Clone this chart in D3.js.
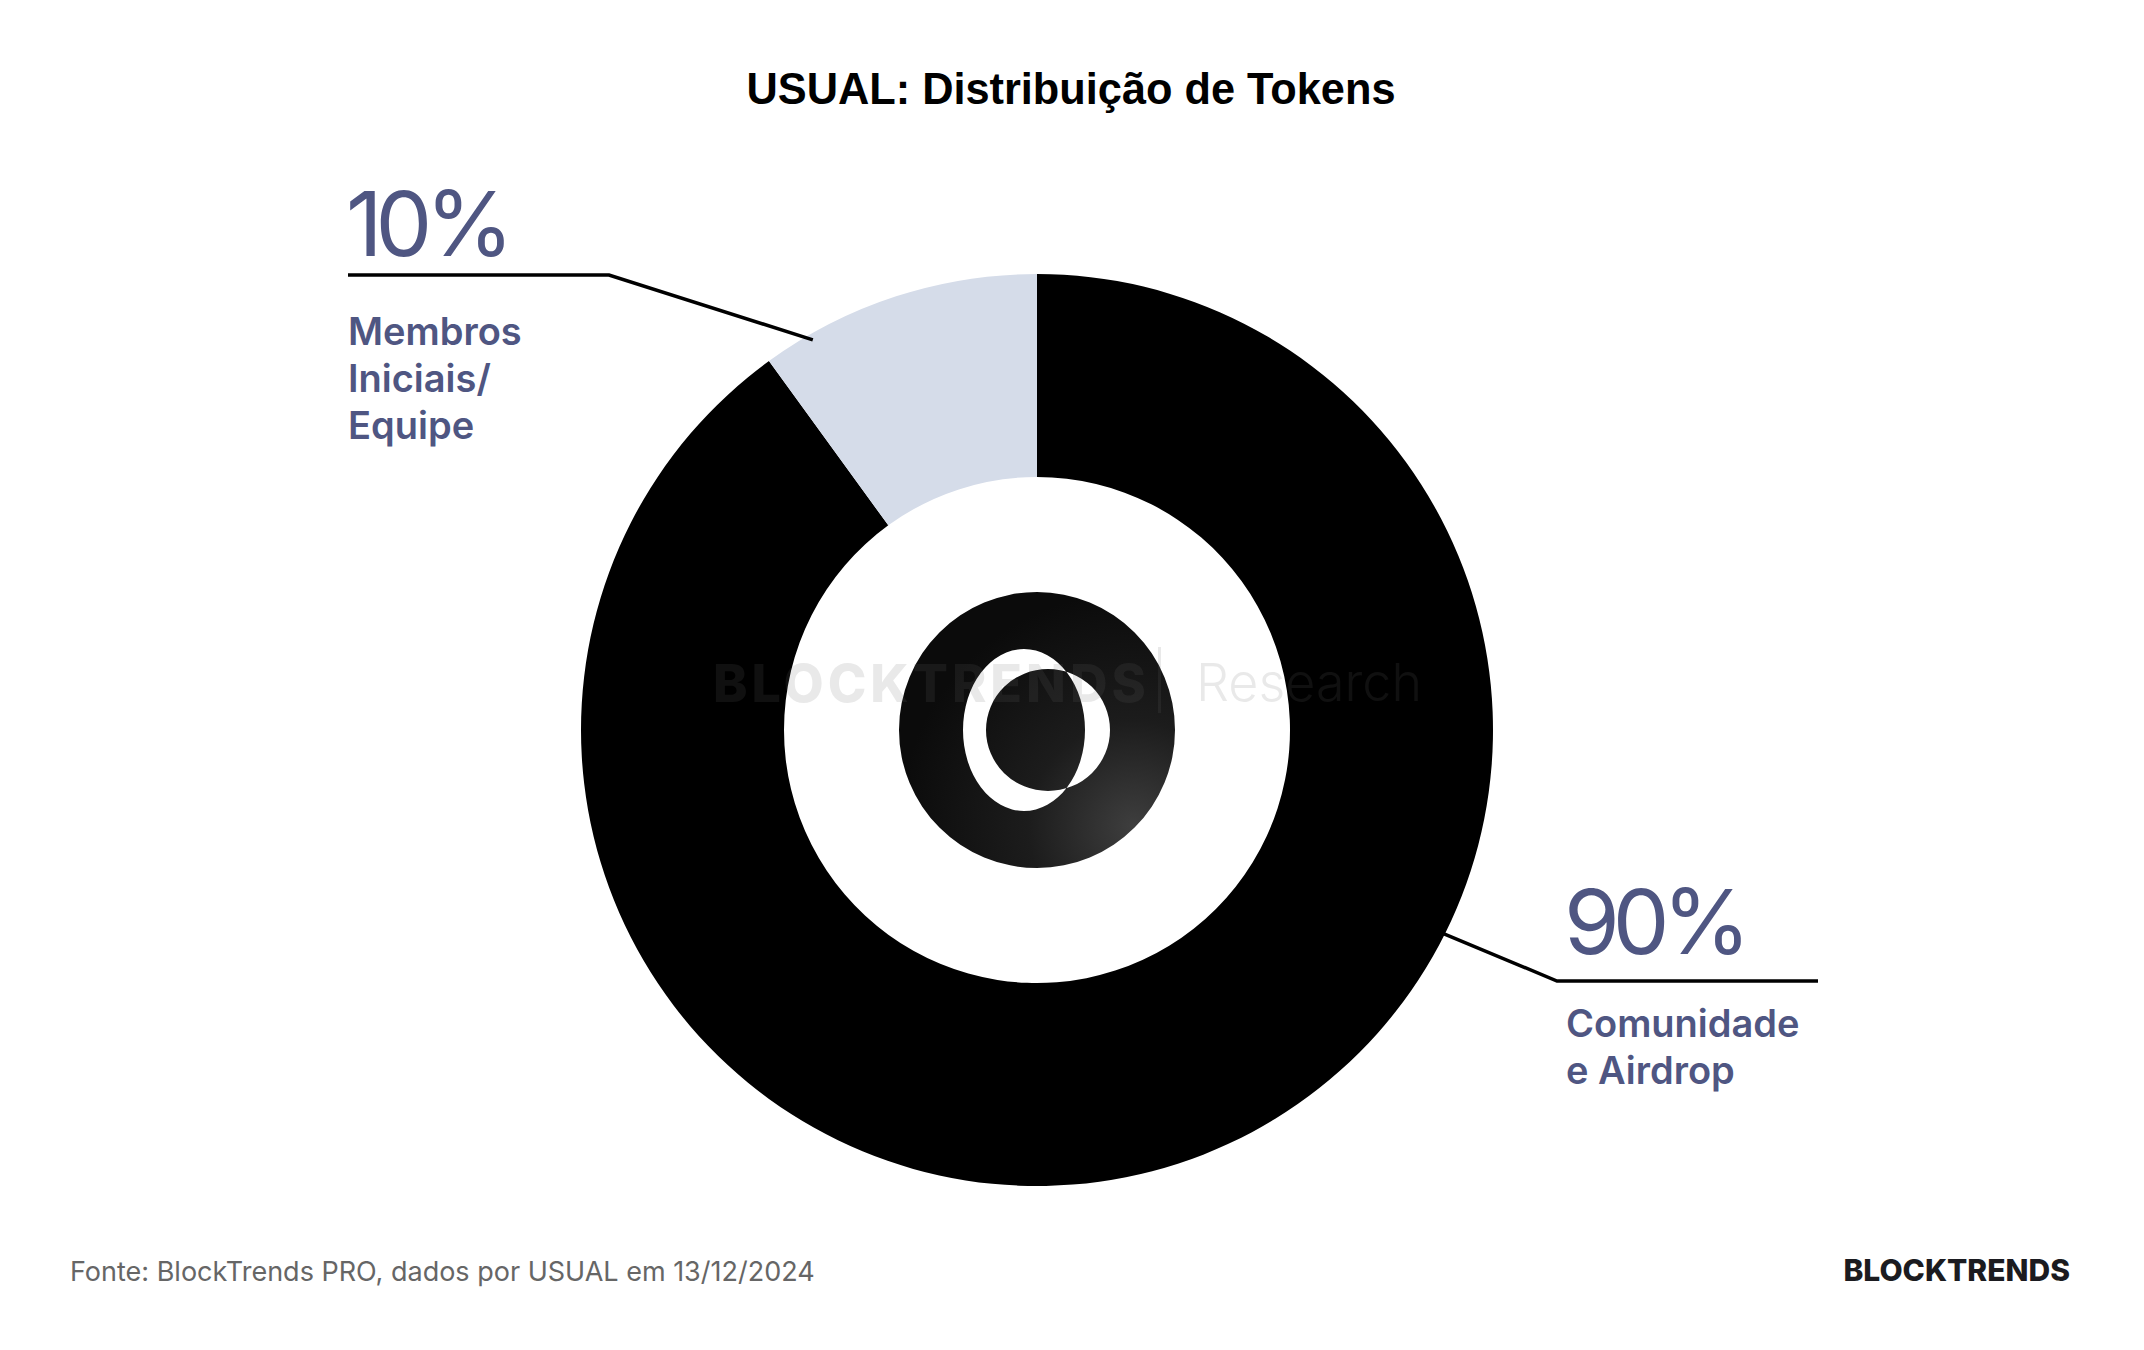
<!DOCTYPE html>
<html>
<head>
  <meta charset="utf-8">
  <title>USUAL: Distribuição de Tokens</title>
  <script src="https://cdnjs.cloudflare.com/ajax/libs/d3/7.8.5/d3.min.js"></script>
  <style>
    body { margin: 0; background: #fff; }
    svg { display: block; }
    .pct { font-family: Inter, "Noto Sans", sans-serif; font-weight: 400; fill: #4f5682; letter-spacing: -7px; }
    .cat { font-family: Inter, "Noto Sans", sans-serif; font-weight: 600; fill: #4f5682; }
    .leader { fill: none; stroke: #000; stroke-width: 3.5; }
  </style>
</head>
<body>
<svg id="chart" width="2144" height="1350"></svg>
<script>
  // data
  var categories = ["Comunidade e Airdrop", "Membros Iniciais/ Equipe"];
  var values = [90, 10];
  var pctLabels = ["90%", "10%"];
  var catLines = [["Comunidade", "e Airdrop"], ["Membros", "Iniciais/", "Equipe"]];
  var colors = ["#000000", "#d5dce9"];

  var W = 2144, H = 1350;
  var cx = 1037, cy = 730, outerR = 456, innerR = 253;

  // where each leader line leaves the ring (fraction of slice span) and its elbow/end
  var leaderLayout = [
    { frac: 0.36, elbow: [1557, 981], end: [1818, 981], tx: 1564, pctDy: -27, catDy: 56 },
    { frac: 0.17, elbow: [609, 275], end: [348, 275], tx: 346, pctDy: -19, catDy: 70 }
  ];

  var svg = d3.select("#chart");

  svg.append("rect").attr("width", W).attr("height", H).attr("fill", "#fff");

  // title
  svg.append("text")
    .attr("x", W / 2 - 1).attr("y", 104)
    .attr("text-anchor", "middle")
    .attr("textLength", 649).attr("lengthAdjust", "spacingAndGlyphs")
    .style("font-family", "'Liberation Sans', Arial, sans-serif")
    .style("font-weight", 700).style("font-size", "45px").style("fill", "#000")
    .text("USUAL: Distribuição de Tokens");

  var pie = d3.pie().sort(null).value(d => d);
  var arcs = pie(values);
  var arc = d3.arc().innerRadius(innerR).outerRadius(outerR);

  var g = svg.append("g").attr("transform", "translate(" + cx + "," + cy + ")");

  g.selectAll("path.slice")
    .data(arcs)
    .enter()
    .append("path")
    .attr("class", "slice")
    .attr("d", arc)
    .attr("fill", (d, i) => colors[i]);

  // watermark (translucent, sits over the ring, under the logo)
  var wm = svg.append("g").attr("fill", "#6e6e6e").attr("fill-opacity", 0.15);
  wm.append("text").attr("x", 713).attr("y", 702)
    .style("font-family", "Inter, sans-serif").style("font-weight", 800)
    .style("font-size", "52px").style("letter-spacing", "4px")
    .text("BLOCKTRENDS");
  wm.append("rect").attr("x", 1158).attr("y", 647).attr("width", 3).attr("height", 66);
  wm.append("text").attr("x", 1196).attr("y", 701)
    .style("font-family", "Inter, sans-serif").style("font-weight", 300)
    .style("font-size", "52px")
    .text("Research");

  // center logo: dark disc with see-through ring shape
  var defs = svg.append("defs");
  var grad = defs.append("radialGradient").attr("id", "logoGrad")
    .attr("cx", "0.85").attr("cy", "0.85").attr("r", "0.85");
  grad.append("stop").attr("offset", "0%").attr("stop-color", "#3e3e3e");
  grad.append("stop").attr("offset", "45%").attr("stop-color", "#1c1c1c");
  grad.append("stop").attr("offset", "100%").attr("stop-color", "#0b0b0b");

  function ellipsePath(x, y, rx, ry) {
    return "M" + (x - rx) + "," + y +
      "A" + rx + "," + ry + " 0 1,0 " + (x + rx) + "," + y +
      "A" + rx + "," + ry + " 0 1,0 " + (x - rx) + "," + y + "Z";
  }
  var logoR = 138;
  g.append("path")
    .attr("d", ellipsePath(0, 0, logoR, logoR) + ellipsePath(-13, 0, 61, 81) + ellipsePath(11, 0, 62, 61))
    .attr("fill", "url(#logoGrad)")
    .attr("fill-rule", "evenodd");

  // leader lines and labels
  arcs.forEach(function (d, i) {
    var L = leaderLayout[i];
    var a = d.startAngle + L.frac * (d.endAngle - d.startAngle);
    var r = outerR - 6;
    var p0 = [cx + r * Math.sin(a), cy - r * Math.cos(a)];
    svg.append("path")
      .attr("class", "leader")
      .attr("d", d3.line()([p0, L.elbow, L.end]));

    var ly = L.elbow[1];
    svg.append("text")
      .attr("class", "pct")
      .attr("x", L.tx).attr("y", ly + L.pctDy)
      .style("font-size", "90px")
      .text(pctLabels[i]);

    var t = svg.append("text")
      .attr("class", "cat")
      .attr("x", L.tx + 2).attr("y", ly + L.catDy)
      .style("font-size", "38px");
    catLines[i].forEach(function (line, j) {
      t.append("tspan").attr("x", L.tx + 2).attr("dy", j === 0 ? 0 : 47).text(line);
    });
  });

  // footer
  svg.append("text")
    .attr("x", 70).attr("y", 1281)
    .style("font-family", "Inter, sans-serif").style("font-weight", 400)
    .style("font-size", "27px").style("fill", "#666")
    .text("Fonte: BlockTrends PRO, dados por USUAL em 13/12/2024");

  svg.append("text")
    .attr("x", 2070).attr("y", 1281)
    .attr("text-anchor", "end")
    .style("font-family", "Inter, sans-serif").style("font-weight", 800)
    .style("font-size", "30px").style("fill", "#1b1b20")
    .text("BLOCKTRENDS");
</script>
</body>
</html>
